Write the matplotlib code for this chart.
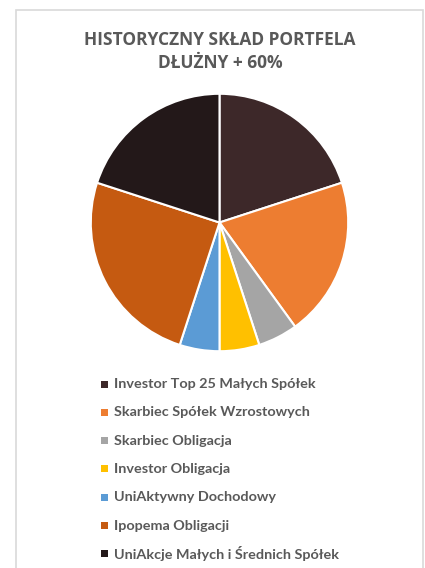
import matplotlib.pyplot as plt
from matplotlib.patches import Rectangle

title = "HISTORYCZNY SKŁAD PORTFELA\nDŁUŻNY + 60%"
labels = ["Investor Top 25 Małych Spółek",
          "Skarbiec Spółek Wzrostowych",
          "Skarbiec Obligacja",
          "Investor Obligacja",
          "UniAktywny Dochodowy",
          "Ipopema Obligacji",
          "UniAkcje Małych i Średnich Spółek"]
shares = [20, 20, 5, 5, 5, 25, 20]
colors = ["#3D2829", "#ED7D31", "#A5A5A5", "#FFC000", "#5B9BD5", "#C55A11", "#231819"]

W, H = 425, 568
fig = plt.figure(figsize=(W / 100, H / 100), dpi=100)
fig.patch.set_facecolor("white")
renderer = fig.canvas.get_renderer()


def fit_size(txt, target_px, size):
    # scale font size so the text is about target_px wide
    w = txt.get_window_extent(renderer).width
    txt.set_fontsize(size * target_px / w)


# light frame like the spreadsheet chart area
fig.patches.append(Rectangle((16 / W, -0.05), (423 - 16) / W, 1 - 10 / H + 0.05,
                             transform=fig.transFigure, fill=False,
                             edgecolor="#D9D9D9", linewidth=1.2))

t = fig.text(220 / W, 1 - 40 / H, title.split("\n")[0], ha="center", va="center",
             fontsize=12.5, fontweight="bold", color="#595959", family="Open Sans")
fit_size(t, 272, 12.5)
fig.text(220 / W, 1 - 63 / H, title.split("\n")[1], ha="center", va="center",
         fontsize=t.get_fontsize(), fontweight="bold", color="#595959", family="Open Sans")

cx, cy, r = 219.5, 222.5, 130
ax = fig.add_axes([(cx - r) / W, 1 - (cy + r) / H, 2 * r / W, 2 * r / H])
ax.pie(shares, colors=colors, startangle=90, counterclock=False, radius=1,
       wedgeprops=dict(edgecolor="white", linewidth=1.5))
ax.set_xlim(-1.01, 1.01)
ax.set_ylim(-1.01, 1.01)
ax.set_aspect("equal")
ax.axis("off")

# legend, one row per fund
y0, step = 384, 28.3
texts = []
for i, (lab, c) in enumerate(zip(labels, colors)):
    y = y0 + i * step
    fig.patches.append(Rectangle((101 / W, 1 - (y + 3.5) / H), 7 / W, 7 / H,
                                 transform=fig.transFigure, facecolor=c, edgecolor="none"))
    texts.append(fig.text(114 / W, 1 - y / H, lab, ha="left", va="center", fontsize=10,
                          fontweight="bold", color="#595959", family="Lato"))
fit_size(texts[-1], 226, 10)
for tx in texts[:-1]:
    tx.set_fontsize(texts[-1].get_fontsize())

fig.savefig("out.png", dpi=100)
